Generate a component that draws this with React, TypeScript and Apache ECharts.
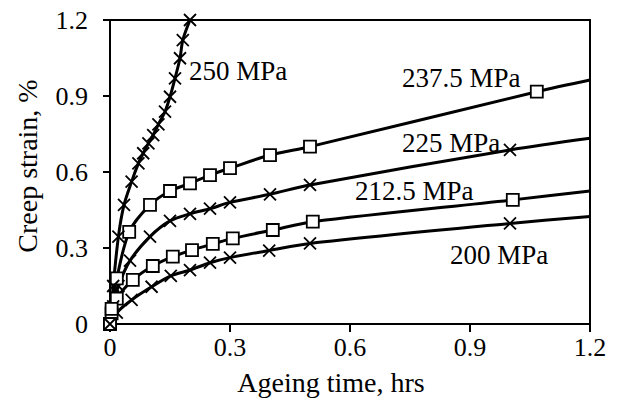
import React, { useEffect, useRef } from "react";
import * as echarts from "echarts";

// Ageing time (hrs) and creep strain (%)
const x200 = [0, 0.017, 0.054, 0.104, 0.152, 0.2, 0.25, 0.3, 0.398, 0.5, 1.0, 1.2];
const y200 = [0, 0.045, 0.095, 0.147, 0.19, 0.213, 0.242, 0.262, 0.29, 0.318, 0.397, 0.424];

const x2125 = [0, 0.004, 0.017, 0.057, 0.107, 0.157, 0.205, 0.257, 0.307, 0.407, 0.507, 1.007, 1.2];
const y2125 = [0, 0.042, 0.1, 0.174, 0.229, 0.266, 0.292, 0.316, 0.338, 0.371, 0.404, 0.49, 0.525];

const x225 = [0, 0.008, 0.021, 0.05, 0.1, 0.15, 0.2, 0.25, 0.3, 0.4, 0.5, 1.0, 1.2];
const y225 = [0, 0.07, 0.15, 0.25, 0.345, 0.407, 0.435, 0.455, 0.48, 0.512, 0.549, 0.687, 0.733];

const x2375 = [0, 0.004, 0.017, 0.048, 0.1, 0.15, 0.2, 0.25, 0.3, 0.4, 0.5, 1.067, 1.2];
const y2375 = [0, 0.06, 0.18, 0.364, 0.47, 0.525, 0.555, 0.588, 0.615, 0.667, 0.7, 0.917, 0.963];

const x250 = [0, 0.008, 0.021, 0.035, 0.054, 0.071, 0.083, 0.096, 0.108, 0.121, 0.1375, 0.15, 0.1625, 0.175, 0.182, 0.2];
const y250 = [0, 0.15, 0.345, 0.47, 0.562, 0.634, 0.674, 0.713, 0.746, 0.788, 0.838, 0.897, 0.97, 1.049, 1.121, 1.2];

const seriesNames = ["200 MPa", "212.5 MPa", "225 MPa", "237.5 MPa", "250 MPa"];
const xTicks = [0, 0.3, 0.6, 0.9, 1.2];
const yTicks = [0, 0.3, 0.6, 0.9, 1.2];

const FONT = "Liberation Serif";
const CROSS = "path://M0,0L10,10M10,0L0,10";

function buildData(xs: number[], ys: number[], lastMarker: boolean) {
  return xs.map((x, i) => {
    const item: any = { value: [x, ys[i]] };
    if (!lastMarker && i === xs.length - 1) item.symbol = "none";
    return item;
  });
}

function makeSeries(name: string, xs: number[], ys: number[], square: boolean, lastMarker: boolean) {
  return {
    type: "line",
    name,
    data: buildData(xs, ys, lastMarker),
    smooth: 0.3,
    clip: false,
    symbol: square ? "rect" : CROSS,
    symbolSize: 12,
    showAllSymbol: true,
    lineStyle: { color: "#000", width: 3 },
    itemStyle: { color: "#fff", borderColor: "#000", borderWidth: 1.8 },
    z: 3,
  };
}

export default function App() {
  const ref = useRef<HTMLDivElement>(null);
  useEffect(() => {
    if (!ref.current) return;
    const chart = echarts.init(ref.current, undefined, { renderer: "svg" });
    const labelStyle = (text: string, x: number, y: number) => ({
      type: "text",
      x,
      y,
      z: 10,
      style: {
        text,
        fill: "#000",
        fontFamily: FONT,
        fontSize: 27,
        align: "left",
        verticalAlign: "middle",
      },
    });
    chart.setOption({
      animation: false,
      backgroundColor: "#fff",
      grid: {
        left: 110,
        right: 27,
        top: 20,
        bottom: 74,
        show: true,
        borderColor: "#000",
        borderWidth: 2,
        backgroundColor: "transparent",
      },
      xAxis: {
        type: "value",
        min: 0,
        max: 1.2,
        interval: 0.3,
        axisLine: { show: true, onZero: false, lineStyle: { color: "#000", width: 2 } },
        axisTick: { show: true, inside: false, length: 8, lineStyle: { color: "#000", width: 2 } },
        splitLine: { show: false },
        axisLabel: {
          color: "#000",
          fontFamily: FONT,
          fontSize: 26,
          margin: 10,
          formatter: (v: number) => {
            const t = xTicks.find((k) => Math.abs(k - v) < 1e-6);
            return t === undefined ? "" : String(t);
          },
        },
      },
      yAxis: {
        type: "value",
        min: 0,
        max: 1.2,
        interval: 0.3,
        axisLine: { show: true, onZero: false, lineStyle: { color: "#000", width: 2 } },
        axisTick: { show: true, inside: false, length: 7, lineStyle: { color: "#000", width: 2 } },
        splitLine: { show: false },
        axisLabel: {
          color: "#000",
          fontFamily: FONT,
          fontSize: 26,
          margin: 22,
          formatter: (v: number) => {
            const t = yTicks.find((k) => Math.abs(k - v) < 1e-6);
            return t === undefined ? "" : String(t);
          },
        },
      },
      graphic: [
        {
          type: "text",
          x: 27,
          y: 166,
          rotation: Math.PI / 2,
          style: {
            text: "Creep strain, %",
            fill: "#000",
            fontFamily: FONT,
            fontSize: 28,
            align: "center",
            verticalAlign: "middle",
          },
        },
        {
          type: "text",
          x: 331,
          y: 382,
          style: {
            text: "Ageing time, hrs",
            fill: "#000",
            fontFamily: FONT,
            fontSize: 28,
            align: "center",
            verticalAlign: "middle",
          },
        },
        labelStyle(seriesNames[4], 189, 71),
        labelStyle(seriesNames[3], 402, 78),
        labelStyle(seriesNames[2], 402, 143),
        labelStyle(seriesNames[1], 355, 191),
        labelStyle(seriesNames[0], 450, 255),
      ],
      series: [
        makeSeries(seriesNames[0], x200, y200, false, false),
        makeSeries(seriesNames[1], x2125, y2125, true, false),
        makeSeries(seriesNames[2], x225, y225, false, false),
        makeSeries(seriesNames[3], x2375, y2375, true, false),
        makeSeries(seriesNames[4], x250, y250, false, true),
      ],
    });
    return () => chart.dispose();
  }, []);
  return <div ref={ref} style={{ width: 617, height: 398, position: "absolute", left: 0, top: 0 }} />;
}
